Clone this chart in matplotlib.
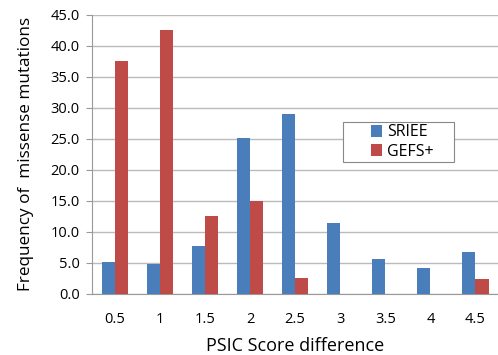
import numpy as np
import matplotlib.pyplot as plt
from matplotlib.patches import Rectangle

categories = ["0.5", "1", "1.5", "2", "2.5", "3", "3.5", "4", "4.5"]
sriee = [5.2, 4.8, 7.7, 25.2, 29.0, 11.5, 5.7, 4.2, 6.7]
gefs = [37.5, 42.5, 12.5, 15.0, 2.5, 0.0, 0.0, 0.0, 2.4]

plt.rcParams["font.family"] = ["Open Sans", "DejaVu Sans"]

fig = plt.figure(figsize=(4.98, 3.55), dpi=100)
ax = fig.add_axes([0.185, 0.172, 0.815, 0.786])

x = np.arange(len(categories))
w = 0.29
ax.bar(x - w / 2, sriee, w, color="#4A7EBB", label="SRIEE", zorder=3)
ax.bar(x + w / 2, gefs, w, color="#BE4B48", label="GEFS+", zorder=3)

ax.set_xlim(-0.5, len(categories) - 0.5)
ax.set_ylim(0, 45)
ax.set_yticks(np.arange(0, 46, 5))
ax.set_yticklabels([f"{v:.1f}" for v in np.arange(0, 46, 5)])
ax.set_xticks(x)
ax.set_xticklabels(categories)
ax.tick_params(axis="y", length=4, color="#999999", labelsize=10.5, pad=5)
ax.tick_params(axis="x", length=0, labelsize=10.5, pad=13)

ax.grid(axis="y", color="#BBBBBB", linewidth=1, zorder=0)
for s in ["top", "right"]:
    ax.spines[s].set_visible(False)
ax.spines["left"].set_color("#999999")
ax.spines["bottom"].set_color("#999999")

ax.set_xlabel("PSIC Score difference", fontsize=13, labelpad=7)
ax.set_ylabel("Frequency of  missense mutations", fontsize=12.3, labelpad=12)

# legend box drawn separately (wider than the text, as in the original)
ax.add_patch(Rectangle((0.618, 0.473), 0.274, 0.143, transform=ax.transAxes,
                       facecolor="white", edgecolor="#888888", linewidth=0.8,
                       zorder=4))
leg = ax.legend(loc="upper left", bbox_to_anchor=(0.675, 0.625), fontsize=11.5,
                handlelength=0.7, handleheight=0.8, handletextpad=0.3,
                frameon=False, borderpad=0.3, labelspacing=0.2,
                borderaxespad=0)
leg.set_zorder(5)

fig.savefig("out.png", dpi=100)
